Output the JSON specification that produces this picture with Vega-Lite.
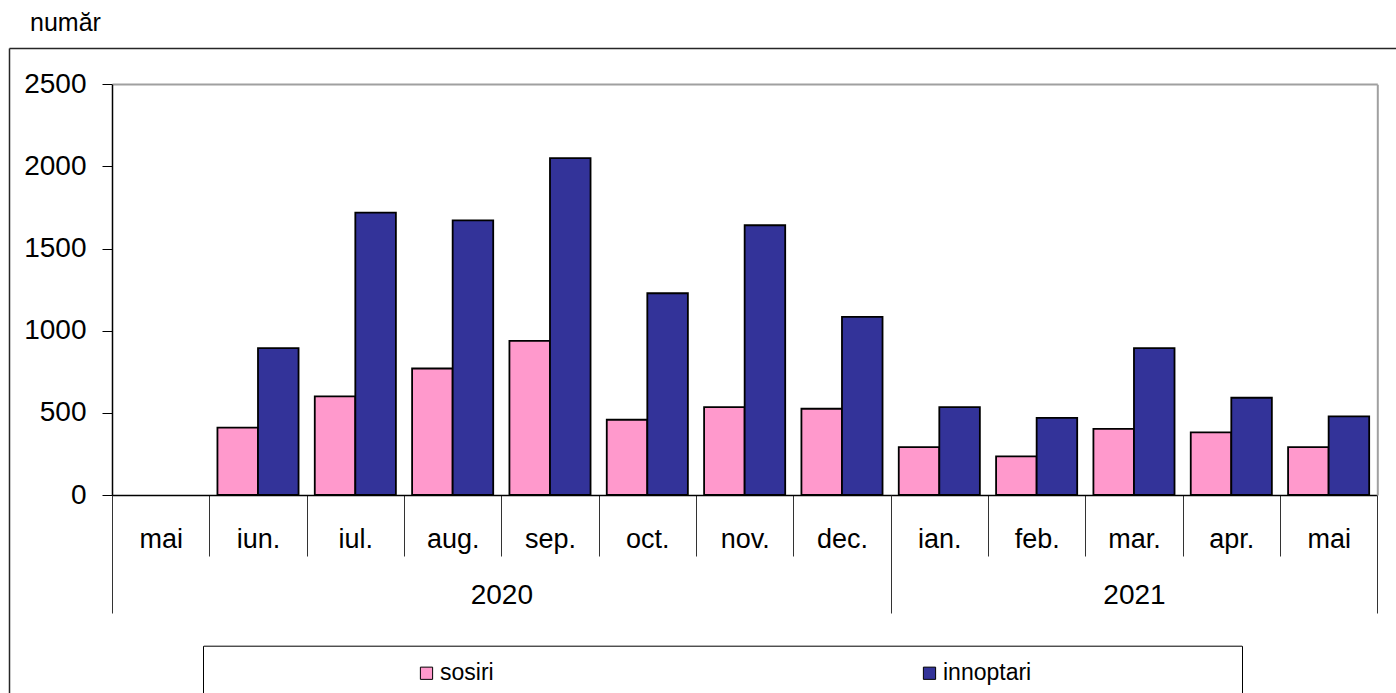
{
  "$schema": "https://vega.github.io/schema/vega-lite/v6.json",
  "width": 1387,
  "height": 645,
  "autosize": {"type": "none"},
  "padding": {"left": 9, "top": 48, "right": 0, "bottom": 0},
  "background": "white",
  "title": {"text": "număr", "anchor": "start", "frame": "group", "dx": 21, "offset": -8, "baseline": "alphabetic", "fontSize": 25, "fontWeight": "normal", "color": "#000", "font": "Liberation Sans"},
  "datasets": {
    "main": [
      {"key": "mai 2020", "order": 0, "series": "sosiri", "value": null},
      {"key": "mai 2020", "order": 0, "series": "innoptari", "value": null},
      {"key": "iun. 2020", "order": 1, "series": "sosiri", "value": 410},
      {"key": "iun. 2020", "order": 1, "series": "innoptari", "value": 894},
      {"key": "iul. 2020", "order": 2, "series": "sosiri", "value": 600},
      {"key": "iul. 2020", "order": 2, "series": "innoptari", "value": 1719},
      {"key": "aug. 2020", "order": 3, "series": "sosiri", "value": 770},
      {"key": "aug. 2020", "order": 3, "series": "innoptari", "value": 1672},
      {"key": "sep. 2020", "order": 4, "series": "sosiri", "value": 938},
      {"key": "sep. 2020", "order": 4, "series": "innoptari", "value": 2051},
      {"key": "oct. 2020", "order": 5, "series": "sosiri", "value": 458},
      {"key": "oct. 2020", "order": 5, "series": "innoptari", "value": 1228},
      {"key": "nov. 2020", "order": 6, "series": "sosiri", "value": 535},
      {"key": "nov. 2020", "order": 6, "series": "innoptari", "value": 1642},
      {"key": "dec. 2020", "order": 7, "series": "sosiri", "value": 525},
      {"key": "dec. 2020", "order": 7, "series": "innoptari", "value": 1084},
      {"key": "ian. 2021", "order": 8, "series": "sosiri", "value": 292},
      {"key": "ian. 2021", "order": 8, "series": "innoptari", "value": 535},
      {"key": "feb. 2021", "order": 9, "series": "sosiri", "value": 235},
      {"key": "feb. 2021", "order": 9, "series": "innoptari", "value": 470},
      {"key": "mar. 2021", "order": 10, "series": "sosiri", "value": 403},
      {"key": "mar. 2021", "order": 10, "series": "innoptari", "value": 894},
      {"key": "apr. 2021", "order": 11, "series": "sosiri", "value": 381},
      {"key": "apr. 2021", "order": 11, "series": "innoptari", "value": 592},
      {"key": "mai 2021", "order": 12, "series": "sosiri", "value": 292},
      {"key": "mai 2021", "order": 12, "series": "innoptari", "value": 478}
    ]
  },
  "data": {"name": "main"},
  "layer": [
    {
      "mark": {"type": "bar", "stroke": "#000", "strokeWidth": 1.8},
      "encoding": {
        "x": {
          "field": "key", "type": "nominal",
          "scale": {"domain": ["mai 2020", "iun. 2020", "iul. 2020", "aug. 2020", "sep. 2020", "oct. 2020", "nov. 2020", "dec. 2020", "ian. 2021", "feb. 2021", "mar. 2021", "apr. 2021", "mai 2021"], "range": [103, 1368.3], "paddingInner": 0, "paddingOuter": 0},
          "axis": {
            "orient": "bottom", "offset": -198, "title": null,
            "tickBand": "extent", "tickSize": 61, "tickColor": "#333", "tickWidth": 1,
            "domainColor": "#000", "domainWidth": 1.5,
            "labelFontSize": 27, "labelBaseline": "alphabetic", "labelPadding": -9, "labelAngle": 0, "labelColor": "#000",
            "labelExpr": "split(datum.label, ' ')[0]",
            "grid": false
          }
        },
        "xOffset": {"field": "series", "type": "nominal", "scale": {"domain": ["sosiri", "innoptari"], "paddingInner": 0, "paddingOuter": 0.2}},
        "y": {
          "field": "value", "type": "quantitative",
          "scale": {"domain": [0, 2500], "range": [447, 36.3], "nice": false, "zero": true},
          "axis": {
            "orient": "left", "offset": -103, "title": null,
            "values": [0, 500, 1000, 1500, 2000, 2500], "format": "d",
            "tickSize": 10, "tickColor": "#000", "domainColor": "#000", "domainWidth": 1.5,
            "labelFontSize": 28, "labelPadding": 16, "labelColor": "#000",
            "grid": true, "gridColor": "#a0a0a0", "gridWidth": 2,
            "gridOpacity": {"condition": {"test": "datum.value === 2500", "value": 1}, "value": 0}
          }
        },
        "color": {
          "field": "series", "type": "nominal",
          "scale": {"domain": ["sosiri", "innoptari"], "range": ["#FF99CC", "#333399"]},
          "legend": {
            "title": null, "orient": "none", "legendX": 406, "legendY": 613.5,
            "direction": "horizontal", "columns": 2, "columnPadding": 424, "gridAlign": "each",
            "symbolType": "square", "symbolSize": 150, "symbolStrokeColor": "#000", "symbolStrokeWidth": 1,
            "labelFontSize": 23, "labelOffset": 2, "labelColor": "#000", "labelFont": "Liberation Sans", "padding": 0
          }
        }
      }
    },
    {
      "mark": {"type": "rule", "opacity": 0},
      "encoding": {
        "x": {
          "field": "order", "type": "quantitative",
          "scale": {"domain": [0, 13], "range": [103, 1368.3], "nice": false, "zero": false},
          "axis": {
            "orient": "bottom", "offset": -198, "title": null,
            "values": [0, 4, 8, 10.5, 13], "domain": false, "grid": false,
            "tickSize": 118, "tickColor": "#333", "tickWidth": 1,
            "tickOpacity": {"condition": {"test": "datum.value === 4 || datum.value === 10.5", "value": 0}, "value": 1},
            "labelExpr": "datum.value === 4 ? '2020' : datum.value === 10.5 ? '2021' : ''",
            "labelFontSize": 28, "labelBaseline": "alphabetic", "labelPadding": -10, "labelColor": "#000",
            "labelFlush": false, "labelOverlap": false, "labelBound": false, "labelAngle": 0
          }
        }
      }
    },
    {
      "mark": {"type": "point", "opacity": 0},
      "encoding": {
        "x": {
          "field": "order", "type": "quantitative",
          "scale": {"domain": [0, 1], "range": [194.3, 1232.7], "nice": false, "zero": false},
          "axis": {
            "orient": "bottom", "offset": -47.3, "title": null,
            "values": [0, 1], "labels": false, "grid": false,
            "tickSize": 60, "tickColor": "#000", "tickWidth": 1,
            "domainColor": "#000", "domainWidth": 1
          }
        },
        "y": {
          "field": "value", "type": "quantitative",
          "scale": {"domain": [0, 2500], "range": [447, 36.3], "nice": false, "zero": true},
          "axis": {
            "orient": "right", "offset": -18.7, "title": null,
            "ticks": false, "labels": false, "grid": false,
            "domainColor": "#a0a0a0", "domainWidth": 2
          }
        }
      }
    },
    {
      "mark": {"type": "point", "opacity": 0},
      "encoding": {
        "x": {
          "field": "order", "type": "quantitative",
          "scale": {"domain": [0, 13], "nice": false},
          "axis": {"orient": "top", "offset": 0, "title": null, "ticks": false, "labels": false, "grid": false, "domainColor": "#262626", "domainWidth": 1.5}
        },
        "y": {
          "field": "value", "type": "quantitative",
          "axis": {"orient": "left", "offset": 0, "title": null, "ticks": false, "labels": false, "grid": false, "domainColor": "#262626", "domainWidth": 1.5}
        }
      }
    }
  ],
  "resolve": {
    "scale": {"x": "independent", "y": "independent"},
    "axis": {"x": "independent", "y": "independent"}
  },
  "config": {
    "font": "Liberation Sans",
    "view": {"stroke": null},
    "axis": {"labelFont": "Liberation Sans"}
  }
}
